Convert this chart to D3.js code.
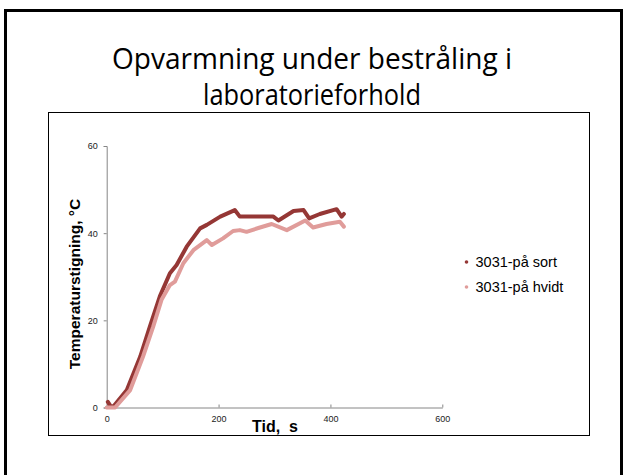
<!DOCTYPE html>
<html><head><meta charset="utf-8">
<script src="https://cdn.jsdelivr.net/npm/d3@7"></script>
<style>html,body{margin:0;padding:0;background:#fff;}svg{display:block;}</style>
</head><body>
<svg id="c" width="625" height="475"></svg>
<script>
const titleLines = ["Opvarmning under bestråling i", "laboratorieforhold"];
const seriesNames = ["3031-på sort", "3031-på hvidt"];
const xTicks = [0, 200, 400, 600];
const yTicks = [0, 20, 40, 60];
const sortT = [2, 7, 12, 36, 60, 77, 95, 113, 125, 143, 167, 179, 203, 229, 238, 274, 298, 307, 334, 352, 362, 381, 411, 420, 424];
const sortV = [1.3, 0.3, 0.2, 4, 11.7, 18.5, 25.5, 30.8, 32.7, 36.9, 41.1, 41.9, 43.8, 45.3, 43.8, 43.8, 43.8, 42.9, 45.1, 45.3, 43.4, 44.4, 45.5, 43.8, 44.4];
const hvidtT = [0, 15, 42, 65, 83, 98, 113, 122, 137, 155, 179, 188, 208, 226, 238, 250, 274, 295, 322, 355, 369, 393, 417, 424];
const hvidtV = [0, 0, 4, 11.7, 18.5, 24.7, 28.1, 28.9, 33.1, 36.1, 38.4, 37.3, 38.8, 40.5, 40.7, 40.3, 41.3, 42.1, 40.7, 42.9, 41.3, 42.1, 42.6, 41.5];
const colors = ["#953735", "#e09c9a"];

const svg = d3.select("#c");
// outer slide frame
svg.append("path").attr("d", "M5.5,480 V10.5 H621.5 V480").attr("fill", "none").attr("stroke", "#000").attr("stroke-width", 3);
// title
const titleWidths = [400, 218];
titleLines.forEach((l, i) => svg.append("text").attr("text-anchor", "middle")
  .attr("font-family", "'Open Sans', sans-serif").attr("font-size", 29).attr("fill", "#000")
  .attr("x", 312).attr("y", 69 + i * 36)
  .attr("textLength", titleWidths[i]).attr("lengthAdjust", "spacingAndGlyphs").text(l));
// chart box
svg.append("rect").attr("x", 48.5).attr("y", 112.5).attr("width", 541).attr("height", 323).attr("fill", "#fff").attr("stroke", "#000").attr("stroke-width", 1);

const x = d3.scaleLinear().domain([0, 600]).range([106.7, 442.3]);
const y = d3.scaleLinear().domain([0, 60]).range([407.5, 146]);

const yAxis = svg.append("g").attr("transform", `translate(${x(0)},0)`)
  .call(d3.axisLeft(y).tickValues(yTicks).tickSize(3).tickPadding(6));
const xAxis = svg.append("g").attr("transform", `translate(0,${y(0)})`)
  .call(d3.axisBottom(x).tickValues(xTicks).tickSizeInner(-3).tickSizeOuter(0).tickPadding(6));
[yAxis, xAxis].forEach(a => {
  a.select(".domain").attr("stroke", "#868686");
  a.selectAll(".tick line").attr("stroke", "#868686");
  a.selectAll("text").attr("font-family", "Arial, 'Liberation Sans', sans-serif").attr("font-size", 9).attr("fill", "#222");
});
xAxis.selectAll("text").attr("dy", "0.9em");

const line = d3.line().x(d => x(d[0])).y(d => y(d[1]));
const data = [d3.zip(sortT, sortV), d3.zip(hvidtT, hvidtV)];
data.forEach((d, i) => {
  svg.append("path").datum(d).attr("d", line).attr("fill", "none")
    .attr("stroke", colors[i]).attr("stroke-width", 4).attr("stroke-linejoin", "round").attr("stroke-linecap", "round");
});

// axis titles
svg.append("text").attr("transform", `translate(80,284) rotate(-90)`).attr("text-anchor", "middle")
  .attr("font-family", "Arial, 'Liberation Sans', sans-serif").attr("font-weight", "bold").attr("font-size", 15.5).text("Temperaturstigning, °C");
svg.append("text").attr("x", 275).attr("y", 432).attr("text-anchor", "middle").attr("xml:space", "preserve")
  .attr("font-family", "Arial, 'Liberation Sans', sans-serif").attr("font-weight", "bold").attr("font-size", 16).text("Tid,  s");

// legend
seriesNames.forEach((n, i) => {
  const ly = 262 + i * 25;
  svg.append("circle").attr("cx", 466.5).attr("cy", ly).attr("r", 1.8).attr("fill", colors[i]);
  svg.append("text").attr("x", 475.5).attr("y", ly + 5).attr("font-family", "Arial, 'Liberation Sans', sans-serif").attr("font-size", 14.5).attr("fill", "#000").text(n);
});
</script>
</body></html>
